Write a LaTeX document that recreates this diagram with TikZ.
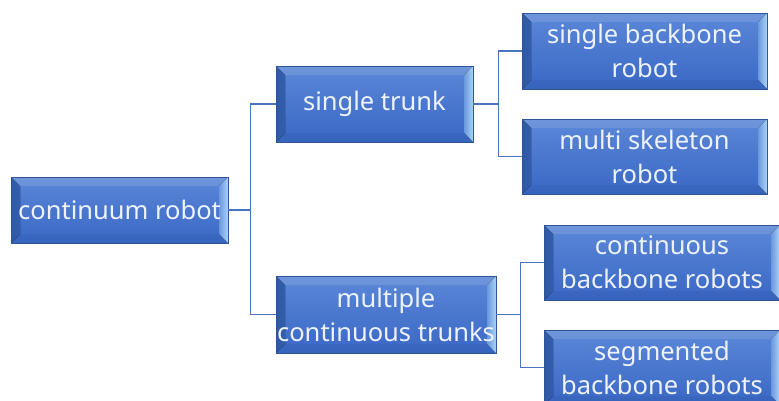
\documentclass[tikz,border=0pt]{standalone}
\usepackage{fontspec}
\setmainfont{Noto Sans}
\begin{document}
\begin{tikzpicture}[x=1pt,y=-1pt]
\definecolor{bordc}{HTML}{2F5597}
\definecolor{topc}{HTML}{5B88D8}
\definecolor{botc}{HTML}{3A67C4}
\definecolor{bevl}{HTML}{A9D4F5}
\definecolor{bevd}{HTML}{2E59A8}
\definecolor{linec}{HTML}{4A74C0}
\definecolor{txtc}{HTML}{EEF3FB}
\tikzset{
  bev/.style={draw=bordc, line width=0.9pt, top color=topc, bottom color=botc,
    text=txtc, align=center, inner sep=0pt,
    font=\fontsize{25.5}{34}\selectfont,
    path picture={
      \fill[left color=bevd, right color=bevl]
        (path picture bounding box.north west)
        -- ([xshift=9pt,yshift=-9pt]path picture bounding box.north west)
        -- ([xshift=9pt,yshift=9pt]path picture bounding box.south west)
        -- (path picture bounding box.south west) -- cycle;
      \fill[left color=topc!80!bevl, right color=bevl]
        (path picture bounding box.north east)
        -- ([xshift=-9pt,yshift=-9pt]path picture bounding box.north east)
        -- ([xshift=-9pt,yshift=9pt]path picture bounding box.south east)
        -- (path picture bounding box.south east) -- cycle;
      \fill[white, opacity=0.12]
        (path picture bounding box.north west)
        -- ([xshift=9pt,yshift=-9pt]path picture bounding box.north west)
        -- ([xshift=-9pt,yshift=-9pt]path picture bounding box.north east)
        -- (path picture bounding box.north east) -- cycle;
      \fill[bevd, opacity=0.25]
        (path picture bounding box.south west)
        -- ([xshift=9pt,yshift=9pt]path picture bounding box.south west)
        -- ([xshift=-9pt,yshift=9pt]path picture bounding box.south east)
        -- (path picture bounding box.south east) -- cycle;
    }},
  conn/.style={draw=linec, line width=1.6pt}
}
\useasboundingbox (0,0) rectangle (779,400);
\node[bev, minimum width=217pt, minimum height=66pt] (A) at (119.5,210) {continuum robot};
\node[bev, minimum width=197pt, minimum height=76pt] (B) at (374.5,104) {single trunk};
\node[bev, minimum width=220pt, minimum height=77pt] (C) at (386,314.5) {multiple\\continuous trunks};
\node[bev, minimum width=245pt, minimum height=76pt] (D) at (644.5,51) {single backbone\\robot};
\node[bev, minimum width=245pt, minimum height=75pt] (E) at (644.5,156.5) {multi skeleton\\robot};
\node[bev, minimum width=236pt, minimum height=75pt] (F) at (662,262.5) {continuous\\backbone robots};
\node[bev, minimum width=236pt, minimum height=75pt] (G) at (662,367.5) {segmented\\backbone robots};
\draw[conn] (A.east) -- ++(22,0) |- (B.west);
\draw[conn] (A.east) -- ++(22,0) |- (C.west);
\draw[conn] (B.east) -- ++(25,0) |- (D.west);
\draw[conn] (B.east) -- ++(25,0) |- (E.west);
\draw[conn] (C.east) -- ++(24,0) |- (F.west);
\draw[conn] (C.east) -- ++(24,0) |- (G.west);
\end{tikzpicture}
\end{document}
